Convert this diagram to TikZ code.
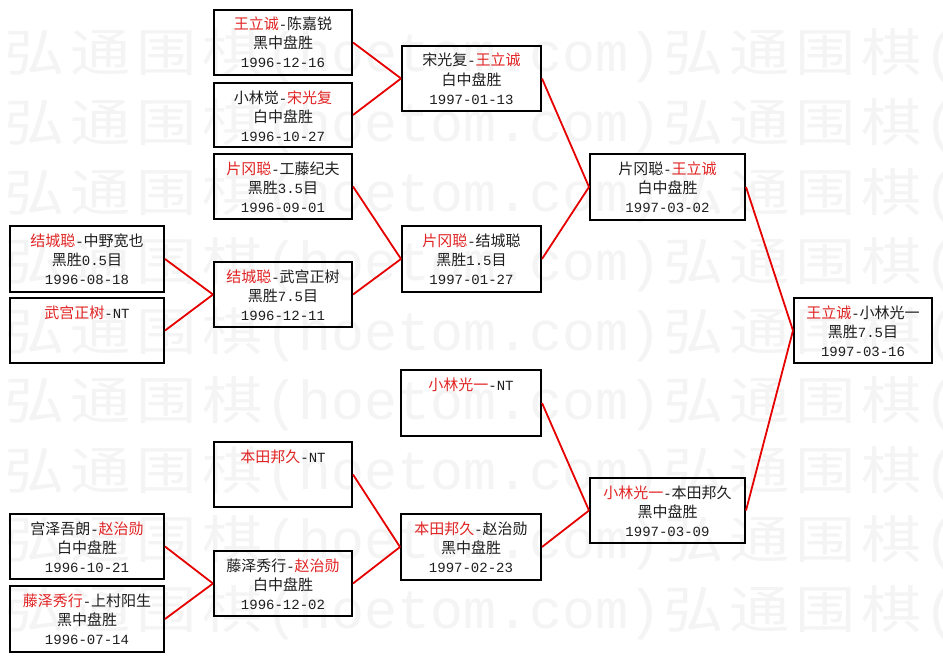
\documentclass[tikz,border=0pt]{standalone}
\usepackage{fontspec}
\setmainfont{Noto Sans CJK SC}
\newfontfamily\monofont{Liberation Mono}
\newfontfamily\wmcjk{Noto Sans CJK SC}
\definecolor{nred}{RGB}{225,35,35}
\definecolor{lred}{RGB}{230,0,0}
\definecolor{txtc}{RGB}{30,30,30}
\definecolor{wm}{RGB}{244,244,244}
\newcommand\R[1]{{\color{nred}#1}}
\newcommand\M[1]{{\monofont\fontsize{14}{19}\selectfont #1}}
\tikzset{
  boxnode/.style={draw=black, line width=2pt, inner sep=0pt, rectangle},
  txt/.style={anchor=base, inner sep=0pt, text=txtc, font=\fontsize{15}{19}\selectfont},
  link/.style={draw=lred, line width=1.8pt},
  wmc/.style={anchor=base, inner sep=0pt, text=wm, font=\wmcjk\fontsize{51}{51}\selectfont, xscale=1.18},
  wml/.style={anchor=base, inner sep=0pt, text=wm, font=\monofont\fontsize{55}{55}\selectfont},
}
\newcommand\bx[8]{%
  \node[boxnode, minimum width={#4-#2}, minimum height={#5-#3}] (#1) at ({(#2+#4)/2},{(#3+#5)/2}) {};
  \node[txt] (#1t1) at ([yshift=-21pt]#1.north) {#6};
  \node[txt] (#1t2) at ([yshift=-40pt]#1.north) {#7};
  \node[txt] (#1t3) at ([yshift=-59pt]#1.north) {#8};
}
\begin{document}
\begin{tikzpicture}[x=1pt,y=-1pt]
\fill[white] (0,0) rectangle (943,661);
\useasboundingbox (0,0) rectangle (943,661);
% watermark
\foreach \r in {0,...,8} {
  \foreach \rep in {0,1} {
    \foreach \c/\o in {弘/0.5,通/1.5,围/2.5,棋/3.5} {
      \node[wmc] at ({2+65.9*(\o+10*\rep)},{72+69.5*\r}) {\c};
    }
    \foreach \c/\o in {{(}/4.25,h/4.75,o/5.25,e/5.75,t/6.25,o/6.75,m/7.25,./7.75,c/8.25,o/8.75,m/9.25,{)}/9.75} {
      \node[wml] at ({2+65.9*(\o+10*\rep)},{72+69.5*\r}) {\c};
    }
  }
}
% boxes
\bx{A}{214}{10}{352}{75}{\R{王立诚}\M{-}陈嘉锐}{黑中盘胜}{\M{1996-12-16}}
\bx{B}{214}{83}{352}{147}{小林觉\M{-}\R{宋光复}}{白中盘胜}{\M{1996-10-27}}
\bx{C}{214}{154}{352}{219}{\R{片冈聪}\M{-}工藤纪夫}{黑胜\M{3.5}目}{\M{1996-09-01}}
\bx{D}{10}{226}{164}{292}{\R{结城聪}\M{-}中野宽也}{黑胜\M{0.5}目}{\M{1996-08-18}}
\bx{E}{10}{298}{164}{363}{\R{武宫正树}\M{-NT}}{}{}
\bx{F}{214}{262}{352}{327}{\R{结城聪}\M{-}武宫正树}{黑胜\M{7.5}目}{\M{1996-12-11}}
\bx{G}{402}{46}{541}{111}{宋光复\M{-}\R{王立诚}}{白中盘胜}{\M{1997-01-13}}
\bx{H}{402}{226}{541}{292}{\R{片冈聪}\M{-}结城聪}{黑胜\M{1.5}目}{\M{1997-01-27}}
\bx{I}{590}{154}{745}{220}{片冈聪\M{-}\R{王立诚}}{白中盘胜}{\M{1997-03-02}}
\bx{J}{214}{442}{352}{507}{\R{本田邦久}\M{-NT}}{}{}
\bx{K}{10}{514}{164}{579}{宫泽吾朗\M{-}\R{赵治勋}}{白中盘胜}{\M{1996-10-21}}
\bx{L}{10}{586}{164}{652}{\R{藤泽秀行}\M{-}上村阳生}{黑中盘胜}{\M{1996-07-14}}
\bx{M}{214}{551}{352}{616}{藤泽秀行\M{-}\R{赵治勋}}{白中盘胜}{\M{1996-12-02}}
\bx{N}{401}{370}{541}{436}{\R{小林光一}\M{-NT}}{}{}
\bx{O}{401}{514}{541}{580}{\R{本田邦久}\M{-}赵治勋}{黑中盘胜}{\M{1997-02-23}}
\bx{P}{590}{478}{745}{543}{\R{小林光一}\M{-}本田邦久}{黑中盘胜}{\M{1997-03-09}}
\bx{Q}{794}{298}{932}{363}{\R{王立诚}\M{-}小林光一}{黑胜\M{7.5}目}{\M{1997-03-16}}
% connectors
\draw[link] (A.east) -- (G.west);
\draw[link] (B.east) -- (G.west);
\draw[link] (C.east) -- (H.west);
\draw[link] (F.east) -- (H.west);
\draw[link] (D.east) -- (F.west);
\draw[link] (E.east) -- (F.west);
\draw[link] (G.east) -- (I.west);
\draw[link] (H.east) -- (I.west);
\draw[link] (I.east) -- (Q.west);
\draw[link] (P.east) -- (Q.west);
\draw[link] (N.east) -- (P.west);
\draw[link] (O.east) -- (P.west);
\draw[link] (J.east) -- (O.west);
\draw[link] (M.east) -- (O.west);
\draw[link] (K.east) -- (M.west);
\draw[link] (L.east) -- (M.west);
\end{tikzpicture}
\end{document}
